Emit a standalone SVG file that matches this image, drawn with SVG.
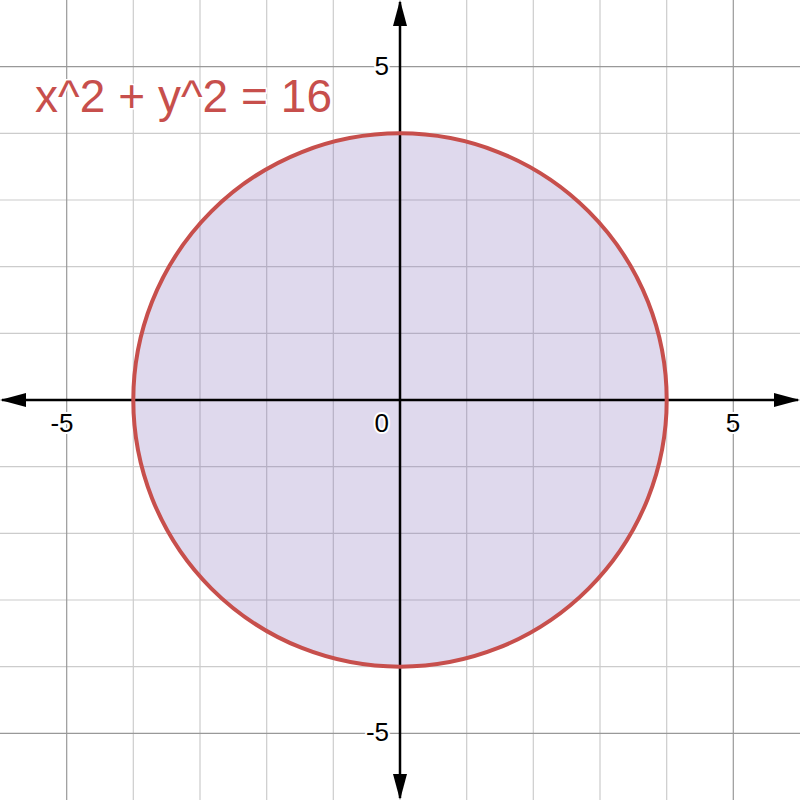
<svg xmlns="http://www.w3.org/2000/svg" width="800" height="800" viewBox="0 0 800 800">
<style>
.minor{stroke:#cccccc;stroke-width:1.2}
.major{stroke:#999999;stroke-width:1.2}
.axis{stroke:#000;stroke-width:2.5}
.tick{font-family:"Liberation Sans",Arial,sans-serif;font-size:26px;fill:#000;stroke:#fff;stroke-width:4;paint-order:stroke;stroke-linejoin:round}
.eq{font-family:"Liberation Sans",Arial,sans-serif;font-size:46px;fill:#c74f4c;stroke:#fff;stroke-width:3;paint-order:stroke}
</style>
<defs>
<marker id="ah" viewBox="0 0 26 16" refX="24" refY="8" markerWidth="26" markerHeight="16" markerUnits="userSpaceOnUse" orient="auto">
<path d="M0,1 L26,8 L0,15 Z" fill="#000"/>
</marker>
</defs>
<rect width="800" height="800" fill="#fff"/>
<g id="grid">
<path class="minor" d="M133.3,0V800M200,0V800M266.7,0V800M333.3,0V800M466.7,0V800M533.3,0V800M600,0V800M666.7,0V800M0,133.3H800M0,200H800M0,266.7H800M0,333.3H800M0,466.7H800M0,533.3H800M0,600H800M0,666.7H800"/>
<path class="major" d="M66.7,0V800M733.3,0V800M0,66.7H800M0,733.3H800"/>
</g>
<g id="region">
<circle cx="400" cy="400" r="266.7" fill="#6042a6" fill-opacity="0.2"/>
</g>
<g id="connectors">
<line class="axis" x1="400" y1="400" x2="2" y2="400" marker-end="url(#ah)"/>
<line class="axis" x1="400" y1="400" x2="798" y2="400" marker-end="url(#ah)"/>
<line class="axis" x1="400" y1="400" x2="400" y2="2" marker-end="url(#ah)"/>
<line class="axis" x1="400" y1="400" x2="400" y2="798" marker-end="url(#ah)"/>
</g>
<g id="curve">
<circle cx="400" cy="400" r="266.7" fill="none" stroke="#c74f4c" stroke-width="4"/>
</g>
<g id="labels">
<text class="tick" x="389" y="75" text-anchor="end">5</text>
<text class="tick" x="389" y="432" text-anchor="end">0</text>
<text class="tick" x="62" y="432" text-anchor="middle">-5</text>
<text class="tick" x="733" y="432" text-anchor="middle">5</text>
<text class="tick" x="389" y="741" text-anchor="end">-5</text>
</g>
<g id="equation">
<text class="eq" x="35" y="112" textLength="297" lengthAdjust="spacing">x^2 + y^2 = 16</text>
</g>
</svg>
